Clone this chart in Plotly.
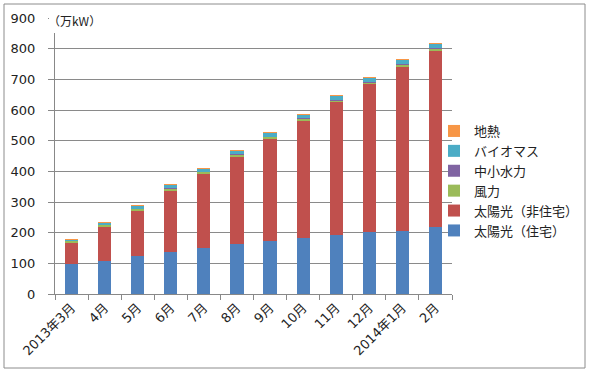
import plotly.graph_objects as go

months = ["2013年3月", "4月", "5月", "6月", "7月", "8月", "9月", "10月", "11月", "12月", "2014年1月", "2月"]
solar_res = [97, 108, 124, 138, 149, 163, 174, 182, 192, 201, 206, 218]
solar_nonres = [70, 112, 147, 199, 242, 285, 332, 383, 433, 483, 535, 574]
wind = [6, 6, 7, 7, 7, 7, 7, 7, 7, 7, 7, 8]
hydro = [0.4, 0.4, 0.5, 0.5, 0.5, 0.5, 0.6, 0.6, 0.6, 0.6, 0.6, 0.7]
biomass = [4.5, 7.5, 10, 11, 12, 12.5, 13, 13.5, 14, 14.5, 15, 16]
geothermal = [0.1, 0.1, 0.1, 0.1, 0.1, 0.1, 0.1, 0.1, 0.1, 0.1, 0.1, 0.1]

series = [
    ("太陽光（住宅）", solar_res, "#4F81BD"),
    ("太陽光（非住宅）", solar_nonres, "#C0504D"),
    ("風力", wind, "#9BBB59"),
    ("中小水力", hydro, "#8064A2"),
    ("バイオマス", biomass, "#4BACC6"),
    ("地熱", geothermal, "#F79646"),
]

FONT = "DejaVu Sans, Noto Sans CJK JP"
CJK = "Noto Sans CJK JP"
fig = go.Figure()
for name, vals, color in series:
    fig.add_trace(go.Bar(x=months, y=vals, name=name, legendgroup=name,
                         marker=dict(color=color, line=dict(width=0))))

W, H = 590, 375
L, R, T, B = 55, 138, 18, 81
pw, ph = W - L - R, H - T - B

def px(x):
    return (x - L) / pw

def py(y):
    return (H - B - y) / ph

fig.update_layout(
    width=W, height=H,
    margin=dict(l=L, r=R, t=T, b=B, autoexpand=False),
    barmode="stack", bargap=0.6,
    plot_bgcolor="white", paper_bgcolor="white",
    font=dict(family=FONT, size=13, color="#222222"),
    showlegend=True,
    legend=dict(traceorder="reversed", x=px(434), y=py(116), xanchor="left", yanchor="top",
                font=dict(family=CJK, size=13, color="#222222"), tracegroupgap=4,
                bgcolor="rgba(0,0,0,0)"),
    xaxis=dict(type="category", tickangle=-45, tickfont=dict(family=FONT, size=13), ticks="outside",
               tickson="boundaries", automargin=False,
               ticklen=5, tickcolor="#888888", showline=True, linecolor="#888888", linewidth=1,
               showgrid=False),
    yaxis=dict(range=[0, 900], dtick=100, tickfont=dict(family="DejaVu Sans", size=13), showgrid=True,
               gridcolor="#8a8a8a", automargin=False, ticklabelstandoff=10,
               gridwidth=1, showline=True, linecolor="#888888", linewidth=1, ticks="outside",
               ticklen=6, tickcolor="#888888", zeroline=False),
    shapes=[
        dict(type="rect", xref="paper", yref="paper", x0=px(4), x1=px(585), y0=py(368), y1=py(4),
             line=dict(color="#8c8c8c", width=1), fillcolor="rgba(0,0,0,0)", layer="above"),
        dict(type="rect", xref="paper", yref="paper", x0=px(49), x1=px(106), y0=py(33), y1=py(8),
             line=dict(width=0), fillcolor="white", layer="above"),
    ],
    annotations=[
        dict(text="（万kW）", xref="paper", yref="paper", x=px(74), y=py(20), showarrow=False,
             xanchor="center", yanchor="middle", font=dict(family=CJK, size=12, color="#222222")),
    ],
)

fig.write_html("out.html", config={"displayModeBar": False},
               post_script="document.body.style.margin='0';")
